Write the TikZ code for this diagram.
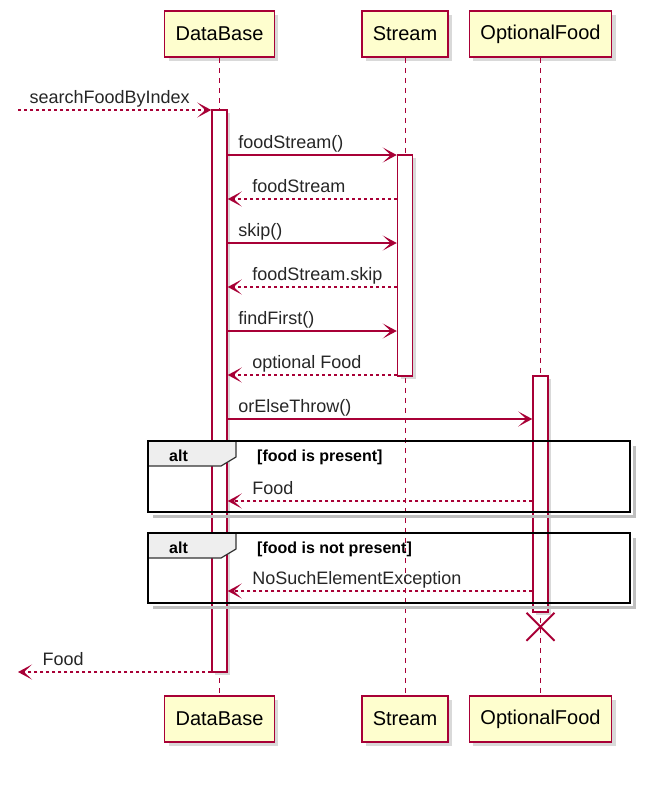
\documentclass[tikz,border=0pt]{standalone}
\usepackage{fontspec}
\setmainfont{Liberation Sans}
\usepackage{tikz}
\usetikzlibrary{positioning,arrows.meta,shadows,calc}
\definecolor{umlred}{HTML}{A80036}
\definecolor{umlfill}{HTML}{FEFECE}
\definecolor{tabgray}{HTML}{EEEEEE}

\tikzset{
  part/.style={draw=umlred, line width=1.5pt, fill=umlfill, minimum height=46pt, inner xsep=11pt,
    font=\fontsize{20}{24}\selectfont, drop shadow={shadow xshift=4pt, shadow yshift=-4pt, opacity=.3}},
  act/.style={draw=umlred, line width=1.5pt, fill=white, minimum width=15pt, inner sep=0pt,
    drop shadow={shadow xshift=3pt, shadow yshift=-3pt, opacity=.3}},
  life/.style={draw=umlred, line width=1pt, dash pattern=on 5pt off 5pt},
  call/.style={draw=umlred, line width=1.3pt, -{Stealth[length=14pt,width=15pt,inset=8pt]}},
  ret/.style={call, dash pattern=on 3pt off 3pt},
  msg/.style={anchor=base west, yshift=7pt, inner sep=0pt, text=black!85, font=\fontsize{18}{22}\selectfont},
  frame/.style={draw=black, line width=2.5pt},
  fshadow/.style={draw=black!25, line width=3pt},
  tab/.style={draw=black!80, line width=1.2pt, fill=tabgray},
  guard/.style={anchor=base west, inner sep=0pt, font=\fontsize{16}{20}\selectfont\bfseries}
}

\begin{document}
\begin{tikzpicture}[x=1pt,y=-1pt]
\useasboundingbox (0,0) rectangle (664,785);

% lifelines
\node(dbTop)  [part] at (219.5,34)  {DataBase};
\node(stTop)  [part] at (405,34)    {Stream};
\node(ofTop)  [part] at (540.5,34)  {OptionalFood};
\node(dbBot)  [part] at (219.5,719) {DataBase};
\node(stBot)  [part] at (405,719)   {Stream};
\node(ofBot)  [part] at (540.5,719) {OptionalFood};
\foreach \p in {db,st,of} {
\draw[life] (\p Top.south)--(\p Bot.north);
}

% activations
\node(dbAct)  [act, minimum height=562pt] at (219.5,391) {};
\node(stAct)  [act, minimum height=221pt] at (405,265.5) {};
\node(ofAct)  [act, minimum height=236pt] at (540.5,494) {};

% message rows
\foreach \n/\y in {0/110,1/155,2/199,3/243,4/287,5/331,6/375,7/419,8/501,9/591,10/672} {
\coordinate (r\n) at (0,\y);
}
\coordinate (inStart) at (18,110);
\coordinate (outEnd)  at (18,672);

% alt frames
\draw[fshadow] (634,446)--(634,516)--(153,516);
\draw[tab] (148,441)--(236,441)--(236,457)--(221,466)--(148,466)--cycle;
\draw[frame] (148,441) rectangle (630,512);
\node(alt1)   [guard] at (169,461) {alt};
\node(cond1)  [guard] at (257,461) {[food is present]};

\draw[fshadow] (634,538)--(634,607)--(153,607);
\draw[tab] (148,533)--(236,533)--(236,549)--(221,558)--(148,558)--cycle;
\draw[frame] (148,533) rectangle (630,603);
\node(alt2)   [guard] at (169,553) {alt};
\node(cond2)  [guard] at (257,553) {[food is not present]};

% messages
\draw[ret]  (inStart) -- (dbAct.west |- r0) node[msg, pos=0, xshift=11pt] {searchFoodByIndex};
\draw[call] (dbAct.east |- r1) -- (stAct.west |- r1) node[msg, pos=0, xshift=10pt] {foodStream()};
\draw[ret]  (stAct.west |- r2) -- (dbAct.east |- r2) node[msg, pos=1, xshift=24pt] {foodStream};
\draw[call] (dbAct.east |- r3) -- (stAct.west |- r3) node[msg, pos=0, xshift=10pt] {skip()};
\draw[ret]  (stAct.west |- r4) -- (dbAct.east |- r4) node[msg, pos=1, xshift=24pt] {foodStream.skip};
\draw[call] (dbAct.east |- r5) -- (stAct.west |- r5) node[msg, pos=0, xshift=10pt] {findFirst()};
\draw[ret]  (stAct.west |- r6) -- (dbAct.east |- r6) node[msg, pos=1, xshift=24pt] {optional Food};
\draw[call] (dbAct.east |- r7) -- (ofAct.west |- r7) node[msg, pos=0, xshift=10pt] {orElseThrow()};
\draw[ret]  (ofAct.west |- r8) -- (dbAct.east |- r8) node[msg, pos=1, xshift=24pt] {Food};
\draw[ret]  (ofAct.west |- r9) -- (dbAct.east |- r9) node[msg, pos=1, xshift=24pt] {NoSuchElementException};
\draw[ret]  (dbAct.west |- r10) -- (outEnd) node[msg, pos=1, xshift=24pt] {Food};

% destroy
\draw[umlred, line width=2pt] ($(ofAct.south)+(-14,0)$)--++(28,28) ($(ofAct.south)+(14,0)$)--++(-28,28);
\end{tikzpicture}
\end{document}
